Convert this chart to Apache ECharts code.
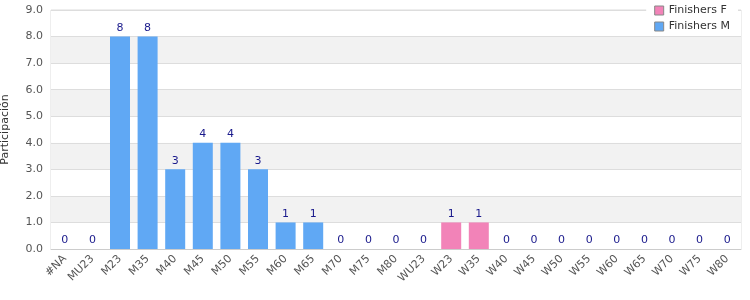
<!DOCTYPE html>
<html><head><meta charset="utf-8">
<script src="https://cdn.jsdelivr.net/npm/echarts@6/dist/echarts.min.js"></script>
<style>html,body{margin:0;padding:0;background:#fff}#c{width:750px;height:300px}</style>
</head><body><div id="c"></div>
<script>
const categories = ['#NA','MU23','M23','M35','M40','M45','M50','M55','M60','M65','M70','M75','M80','WU23','W23','W35','W40','W45','W50','W55','W60','W65','W70','W75','W80'];
const finishersM = [0,0,8,8,3,4,4,3,1,1,0,0,0,0,null,null,null,null,null,null,null,null,null,null,null];
const finishersF = [null,null,null,null,null,null,null,null,null,null,null,null,null,null,1,1,0,0,0,0,0,0,0,0,0];
const yTicks = [0,1,2,3,4,5,6,7,8,9];

const chart = echarts.init(document.getElementById('c'), null, {renderer:'canvas'});
const font = 'DejaVu Sans';
const lbl = {show:true, position:'top', color:'#1a1a8c', fontSize:11, fontFamily:font, distance:3};
chart.setOption({
  animation:false,
  textStyle:{fontFamily:font},
  legend:{
    orient:'vertical', right:12, top:3, itemWidth:9, itemHeight:9, itemGap:5,
    backgroundColor:'#fff', padding:[2,8,2,8],
    icon:'rect',
    textStyle:{fontSize:11, color:'#333', fontFamily:font},
    data:[{name:'Finishers F', itemStyle:{borderColor:'#888', borderWidth:1}},{name:'Finishers M', itemStyle:{borderColor:'#888', borderWidth:1}}]
  },
  grid:{left:51, right:9, top:10, bottom:51, outerBoundsMode:'none', containLabel:false, show:true, borderColor:'#ddd', borderWidth:1},
  xAxis:{
    type:'category', data:categories,
    axisLine:{lineStyle:{color:'#ccc'}}, axisTick:{show:false},
    axisLabel:{rotate:45, fontSize:11, color:'#555', fontFamily:font, interval:0, margin:8}
  },
  yAxis:{
    type:'value', min:yTicks[0], max:yTicks[yTicks.length-1], interval:1,
    name:'Participación', nameLocation:'middle', nameGap:40, nameRotate:90,
    nameTextStyle:{fontSize:11, color:'#333', fontFamily:font},
    axisLabel:{formatter:v=>v.toFixed(1), fontSize:11, color:'#555', fontFamily:font},
    axisLine:{show:false}, axisTick:{show:false},
    splitLine:{lineStyle:{color:'#ddd'}},
    splitArea:{show:true, areaStyle:{color:['#ffffff','#f2f2f2']}}
  },
  series:[
    {name:'Finishers F', type:'bar', stack:'a', data:finishersF, barWidth:20, itemStyle:{color:'#f283b8'}, label:lbl},
    {name:'Finishers M', type:'bar', stack:'a', data:finishersM, barWidth:20, itemStyle:{color:'#60a8f4'}, label:lbl}
  ]
});
</script></body></html>
